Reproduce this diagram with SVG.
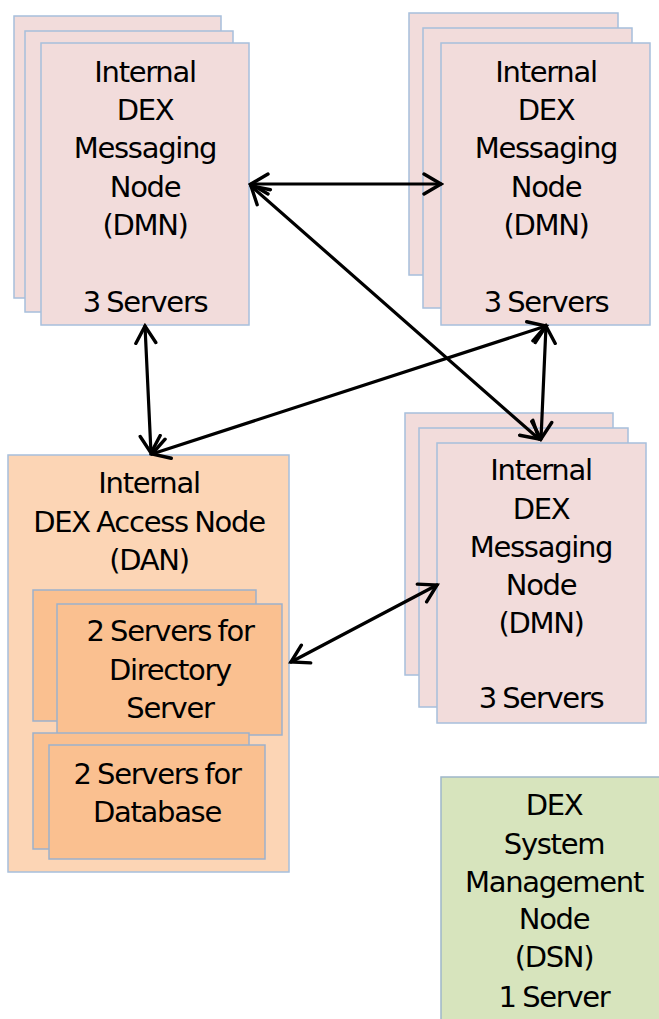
<svg xmlns="http://www.w3.org/2000/svg" width="659" height="1019" viewBox="0 0 659 1019">
<style>
.dmn{fill:#f2dcdb;stroke:#a7bfdc;stroke-width:1.5}
.dan{fill:#fcd5b5;stroke:#a7bfdc;stroke-width:1.5}
.srv{fill:#fac090;stroke:#9cb1cc;stroke-width:1.5}
.dsn{fill:#d7e4bd;stroke:#9fb6c9;stroke-width:1.5}
text{font-family:"DejaVu Sans",sans-serif;font-size:29px;fill:#000;text-anchor:middle;letter-spacing:-1.3px;word-spacing:-1.5px}
.conn line{stroke:#000;stroke-width:3.2;stroke-linecap:round;fill:none}
</style>
<defs>
<marker id="ah" viewBox="0 0 22 24" refX="19" refY="12" markerWidth="22" markerHeight="24" markerUnits="userSpaceOnUse" orient="auto-start-reverse">
<path d="M2,2 L19,12 L2,22" fill="none" stroke="#000" stroke-width="3.4" stroke-linecap="round" stroke-linejoin="miter"/>
</marker>
</defs>

<g id="dmn-top-left">
<rect class="dmn" x="14" y="16" width="207" height="282"/>
<rect class="dmn" x="25" y="31" width="208" height="281"/>
<rect class="dmn" x="41" y="43" width="208" height="282"/>
<text x="145" y="82">Internal</text>
<text x="145" y="120">DEX</text>
<text x="145" y="158">Messaging</text>
<text x="145" y="197">Node</text>
<text x="145" y="235">(DMN)</text>
<text x="145" y="312">3 Servers</text>
</g>

<g id="dmn-top-right">
<rect class="dmn" x="409" y="13" width="209" height="262"/>
<rect class="dmn" x="423" y="28" width="209" height="280"/>
<rect class="dmn" x="441" y="43" width="209" height="282"/>
<text x="546" y="82">Internal</text>
<text x="546" y="120">DEX</text>
<text x="546" y="158">Messaging</text>
<text x="546" y="197">Node</text>
<text x="546" y="235">(DMN)</text>
<text x="546" y="312">3 Servers</text>
</g>

<g id="dmn-bottom-right">
<rect class="dmn" x="405" y="413" width="208" height="262"/>
<rect class="dmn" x="419" y="428" width="209" height="279"/>
<rect class="dmn" x="437" y="443" width="209" height="280"/>
<text x="541" y="480">Internal</text>
<text x="541" y="519">DEX</text>
<text x="541" y="557">Messaging</text>
<text x="541" y="595">Node</text>
<text x="541" y="633">(DMN)</text>
<text x="541" y="708">3 Servers</text>
</g>

<g id="dan">
<rect class="dan" x="8" y="455" width="281" height="417"/>
<text x="149" y="493">Internal</text>
<text x="149" y="532">DEX Access Node</text>
<text x="149" y="570">(DAN)</text>
</g>

<g id="dan-directory">
<rect class="srv" x="33" y="590" width="223" height="131"/>
<rect class="srv" x="57" y="604" width="225" height="131"/>
<text x="170" y="641">2 Servers for</text>
<text x="170" y="680">Directory</text>
<text x="170" y="718">Server</text>
</g>

<g id="dan-database">
<rect class="srv" x="33" y="733" width="216" height="116"/>
<rect class="srv" x="49" y="745" width="216" height="114"/>
<text x="157" y="784">2 Servers for</text>
<text x="157" y="822">Database</text>
</g>

<g id="dsn">
<rect class="dsn" x="441" y="777" width="230" height="260"/>
<text x="554" y="815">DEX</text>
<text x="554" y="854">System</text>
<text x="554" y="892">Management</text>
<text x="554" y="929">Node</text>
<text x="554" y="967">(DSN)</text>
<text x="554" y="1007">1 Server</text>
</g>

<g id="connectors" class="conn">
<line x1="251" y1="184" x2="441" y2="184" marker-start="url(#ah)" marker-end="url(#ah)"/>
<line x1="251" y1="186" x2="539" y2="439" marker-start="url(#ah)" marker-end="url(#ah)"/>
<line x1="145" y1="326" x2="151" y2="453" marker-start="url(#ah)" marker-end="url(#ah)"/>
<line x1="152" y1="454" x2="546" y2="326" marker-start="url(#ah)" marker-end="url(#ah)"/>
<line x1="546" y1="326" x2="541" y2="439" marker-start="url(#ah)" marker-end="url(#ah)"/>
<line x1="291" y1="662" x2="437" y2="585" marker-start="url(#ah)" marker-end="url(#ah)"/>
</g>
</svg>
